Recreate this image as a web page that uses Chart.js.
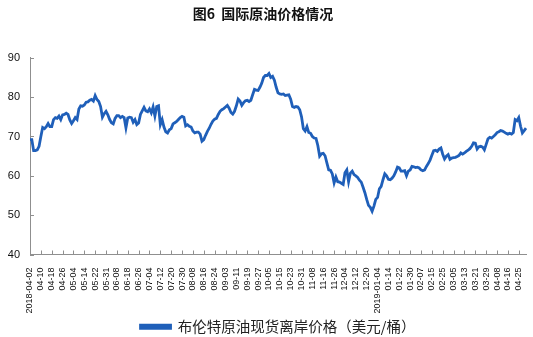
<!DOCTYPE html>
<html>
<head>
<meta charset="utf-8">
<script src="https://cdn.jsdelivr.net/npm/chart.js@4"></script>
<style>
  html,body{margin:0;padding:0;background:#fff;}
  #wrap{width:533px;height:337px;}
</style>
</head>
<body>
<div id="wrap"><canvas id="oilChart" width="533" height="337"></canvas></div>
<script>
// --- 数据: 布伦特原油现货离岸价格 (逐日, 从图上估读) ---
const tickLabels = ['2018-04-02','04-10','04-18','04-26','05-04','05-14','05-22','05-31','06-08','06-18','06-26','07-04','07-12','07-20','07-30','08-08','08-16','08-24','09-03','09-11','09-19','09-27','10-05','10-15','10-23','10-31','11-08','11-16','11-26','12-04','12-12','12-20','2019-01-04','01-14','01-22','01-30','02-07','02-15','02-25','03-05','03-13','03-21','03-29','04-08','04-16','04-25'];
const daysPerTick = 6;
const daysAfterLast = 4;

const brentPrice = [
  69.2,69.2,66.4,66.4,66.6,67.5,70.0,72.3,72.0,72.5,
  73.3,72.5,72.5,74.3,74.8,74.6,75.2,74.3,75.5,75.6,
  75.9,75.6,74.2,73.3,74.0,74.8,74.3,77.0,77.8,77.7,
  78.0,78.7,78.8,79.2,79.4,79.0,80.4,79.4,78.9,77.6,
  74.9,75.8,76.4,75.5,74.3,73.5,73.2,74.6,75.3,75.3,
  74.8,75.1,74.8,72.2,74.7,74.9,74.8,73.6,74.3,73.0,
  73.4,75.6,76.5,77.4,76.5,76.3,77.0,76.0,77.5,75.2,
  77.6,77.8,73.0,74.3,72.4,71.2,70.9,71.7,72.0,73.2,
  73.5,73.8,74.3,74.8,75.1,74.9,72.7,73.0,72.6,72.4,
  71.4,70.9,71.1,71.1,70.6,68.8,69.2,70.3,71.3,72.1,
  73.1,73.9,74.4,74.6,75.6,76.4,76.8,77.1,77.5,77.9,
  77.2,76.1,75.7,76.4,77.8,79.5,79.0,77.9,78.6,79.1,
  79.2,78.9,79.2,80.6,82.0,81.8,81.7,82.5,83.5,85.0,
  85.5,85.5,86.0,85.0,85.3,84.3,82.5,81.1,80.8,80.7,
  80.8,80.4,80.5,80.6,79.5,77.6,77.4,77.6,77.5,76.8,
  75.0,72.0,71.4,72.5,71.0,70.8,70.0,69.6,69.5,67.7,
  65.0,65.6,65.7,65.1,63.3,61.5,61.4,60.5,58.2,59.7,
  58.5,58.4,58.1,57.8,60.8,61.5,58.5,60.7,61.2,60.3,
  60.0,59.6,58.9,58.4,57.1,55.7,54.0,52.5,52.0,51.0,
  52.3,54.0,54.5,56.7,57.3,59.0,60.5,60.0,59.1,59.0,
  59.4,60.0,61.0,62.2,62.0,61.2,61.2,61.3,60.0,61.2,
  61.5,62.4,62.3,62.1,62.2,62.0,61.5,61.3,61.5,62.4,
  63.1,64.0,65.2,66.4,66.5,66.2,66.8,67.1,65.5,64.3,
  65.0,65.4,64.2,64.5,64.6,64.7,64.9,65.2,65.8,65.5,
  65.8,66.2,66.5,66.9,67.5,68.4,68.3,66.8,67.4,67.5,
  67.3,66.6,68.0,69.4,69.8,69.6,70.0,70.4,71.0,71.2,
  71.5,71.4,71.1,70.8,70.6,70.8,70.6,71.0,74.3,74.0,
  74.8,72.6,70.9,71.5,72.1
];

const yMin = 40, yMax = 90, yStep = 10;

// category list: one slot per day, label only every 6th
const categories = [];
tickLabels.forEach((lab, k) => {
  categories.push(lab);
  const fill = k < tickLabels.length - 1 ? daysPerTick - 1 : daysAfterLast;
  for (let j = 0; j < fill; j++) categories.push('');
});

const lineBlue = '#1f5fb9';
const axisGrey = '#8f8f8f';

// 刻度线朝内 (inward tick marks)
const innerTicks = {
  id: 'innerTicks',
  afterDatasetsDraw(chart){
    const {ctx, scales:{x, y}} = chart;
    ctx.save();
    ctx.strokeStyle = axisGrey;
    ctx.lineWidth = 1;
    ctx.beginPath();
    x.ticks.forEach((t, i) => {
      if (!categories[t.value]) return;
      const px = Math.round(x.getPixelForTick(i)) + 0.5;
      ctx.moveTo(px, y.bottom);
      ctx.lineTo(px, y.bottom - 4);
    });
    y.ticks.forEach((t, i) => {
      const py = Math.round(y.getPixelForTick(i)) + 0.5;
      ctx.moveTo(x.left, py);
      ctx.lineTo(x.left + 4, py);
    });
    ctx.stroke();
    ctx.restore();
  }
};

new Chart(document.getElementById('oilChart'), {
  type: 'line',
  data: {
    labels: categories,
    datasets: [{
      label: '布伦特原油现货离岸价格（美元/桶）',
      data: brentPrice,
      borderColor: lineBlue,
      backgroundColor: lineBlue,
      borderWidth: 2.8,
      pointRadius: 0,
      tension: 0
    }]
  },
  options: {
    responsive: false,
    animation: false,
    layout: { padding: { left: 0, right: 7, top: 0, bottom: -7 } },
    plugins: {
      title: {
        display: true,
        text: '图6  国际原油价格情况',
        color: '#111',
        font: { family: '"Noto Sans CJK SC", "Noto Sans", sans-serif', size: 14, weight: 'bold' },
        padding: { top: 5, bottom: 36 }
      },
      legend: {
        position: 'bottom',
        fullSize: false,
        labels: {
          color: '#222',
          boxWidth: 30,
          boxHeight: 3,
          padding: 0,
          font: { family: '"Noto Sans CJK SC", sans-serif', size: 14.5 }
        }
      },
      tooltip: { enabled: false }
    },
    scales: {
      x: {
        offset: false,
        grid: { display: false },
        border: { display: true, color: axisGrey },
        ticks: {
          autoSkip: false,
          maxRotation: 90,
          minRotation: 90,
          padding: 5,
          color: '#111',
          font: { family: '"Liberation Sans", Arial, sans-serif', size: 9 }
        },
        afterFit(scale){
          scale.height = 65;
          scale.paddingLeft = 0;
          scale.paddingRight = 0;
        }
      },
      y: {
        min: yMin,
        max: yMax,
        grid: { display: false },
        border: { display: true, color: axisGrey },
        ticks: {
          stepSize: yStep,
          padding: 2,
          color: '#111',
          font: { family: '"Liberation Sans", Arial, sans-serif', size: 11 }
        },
        afterFit(scale){ scale.width = 30; }
      }
    }
  },
  plugins: [innerTicks]
});
</script>
</body>
</html>
